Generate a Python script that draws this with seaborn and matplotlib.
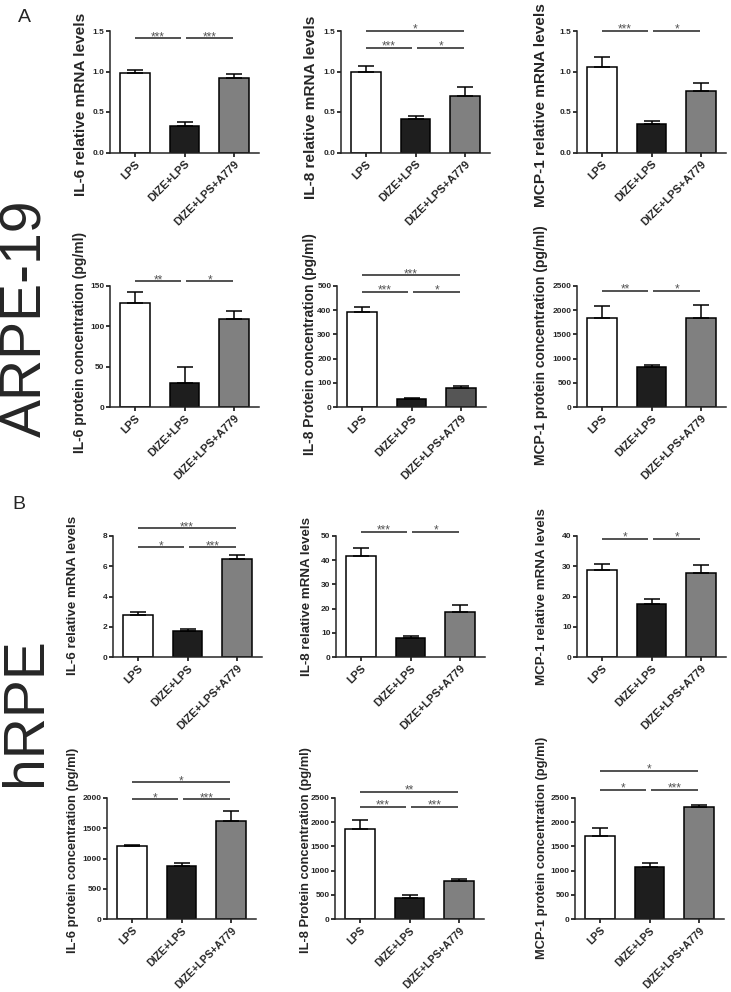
import numpy as np
import pandas as pd
import matplotlib
matplotlib.use('Agg')
import matplotlib.pyplot as plt
import seaborn as sns

sns.set_style('ticks')
plt.rcParams['font.family'] = ['Liberation Sans', 'DejaVu Sans']

groups = ['LPS', 'DIZE+LPS', 'DIZE+LPS+A779']

# ---- ARPE-19 ----
arpe_il6_mrna = [0.98, 0.33, 0.925]
arpe_il6_mrna_sem = [0.04, 0.05, 0.05]
arpe_il8_mrna = [1.00, 0.41, 0.70]
arpe_il8_mrna_sem = [0.065, 0.035, 0.105]
arpe_mcp1_mrna = [1.06, 0.35, 0.755]
arpe_mcp1_mrna_sem = [0.12, 0.045, 0.10]
arpe_il6_prot = [129, 30, 109]
arpe_il6_prot_sem = [14, 19, 10.5]
arpe_il8_prot = [393, 34, 79]
arpe_il8_prot_sem = [22, 4, 9]
arpe_mcp1_prot = [1846, 820, 1846]
arpe_mcp1_prot_sem = [234, 41, 268]

# ---- hRPE ----
hrpe_il6_mrna = [2.78, 1.75, 6.47]
hrpe_il6_mrna_sem = [0.22, 0.08, 0.27]
hrpe_il8_mrna = [41.6, 8.0, 18.8]
hrpe_il8_mrna_sem = [3.6, 0.8, 2.6]
hrpe_mcp1_mrna = [28.7, 17.4, 27.8]
hrpe_mcp1_mrna_sem = [1.95, 1.9, 2.5]
hrpe_il6_prot = [1201, 870, 1625]
hrpe_il6_prot_sem = [28, 50, 155]
hrpe_il8_prot = [1853, 441, 792]
hrpe_il8_prot_sem = [192, 55, 41]
hrpe_mcp1_prot = [1713, 1077, 2313]
hrpe_mcp1_prot_sem = [172, 76, 49]

# significance brackets: (group i, group j, level, label)
sig_arpe_il6_mrna = [(0, 1, 1.41, '***'), (1, 2, 1.41, '***')]
sig_arpe_il8_mrna = [(0, 2, 1.5, '*'), (0, 1, 1.29, '***'), (1, 2, 1.29, '*')]
sig_arpe_mcp1_mrna = [(0, 1, 1.5, '***'), (1, 2, 1.5, '*')]
sig_arpe_il6_prot = [(0, 1, 156, '**'), (1, 2, 156, '*')]
sig_arpe_il8_prot = [(0, 2, 544, '***'), (0, 1, 475, '***'), (1, 2, 475, '*')]
sig_arpe_mcp1_prot = [(0, 1, 2397, '**'), (1, 2, 2397, '*')]
sig_hrpe_il6_mrna = [(0, 2, 8.5, '***'), (0, 1, 7.25, '*'), (1, 2, 7.25, '***')]
sig_hrpe_il8_mrna = [(0, 1, 51.7, '***'), (1, 2, 51.7, '*')]
sig_hrpe_mcp1_mrna = [(0, 1, 39, '*'), (1, 2, 39, '*')]
sig_hrpe_il6_prot = [(0, 2, 2259, '*'), (0, 1, 1978, '*'), (1, 2, 1978, '***')]
sig_hrpe_il8_prot = [(0, 2, 2631, '**'), (0, 1, 2321, '***'), (1, 2, 2321, '***')]
sig_hrpe_mcp1_prot = [(0, 2, 3059, '*'), (0, 1, 2672, '*'), (1, 2, 2672, '***')]

ylabels = [
    'IL-6 relative mRNA levels', 'IL-8 relative mRNA levels', 'MCP-1 relative mRNA levels',
    'IL-6 protein concentration (pg/ml)', 'IL-8 Protein concentration (pg/ml)', 'MCP-1 protein concentration (pg/ml)',
    'IL-6 relative mRNA levels', 'IL-8 relative mRNA levels', 'MCP-1 relative mRNA levels',
    'IL-6 protein concentration (pg/ml)', 'IL-8 Protein concentration (pg/ml)', 'MCP-1 protein concentration (pg/ml)',
]
ymax = [1.5, 1.5, 1.5, 150, 500, 2500, 8, 50, 40, 2000, 2500, 2500]
ystep = [0.5, 0.5, 0.5, 50, 100, 500, 2, 10, 10, 500, 500, 500]

means = [arpe_il6_mrna, arpe_il8_mrna, arpe_mcp1_mrna, arpe_il6_prot, arpe_il8_prot, arpe_mcp1_prot,
         hrpe_il6_mrna, hrpe_il8_mrna, hrpe_mcp1_mrna, hrpe_il6_prot, hrpe_il8_prot, hrpe_mcp1_prot]
sems = [arpe_il6_mrna_sem, arpe_il8_mrna_sem, arpe_mcp1_mrna_sem, arpe_il6_prot_sem, arpe_il8_prot_sem,
        arpe_mcp1_prot_sem, hrpe_il6_mrna_sem, hrpe_il8_mrna_sem, hrpe_mcp1_mrna_sem, hrpe_il6_prot_sem,
        hrpe_il8_prot_sem, hrpe_mcp1_prot_sem]
sigs = [sig_arpe_il6_mrna, sig_arpe_il8_mrna, sig_arpe_mcp1_mrna, sig_arpe_il6_prot, sig_arpe_il8_prot,
        sig_arpe_mcp1_prot, sig_hrpe_il6_mrna, sig_hrpe_il8_mrna, sig_hrpe_mcp1_mrna, sig_hrpe_il6_prot,
        sig_hrpe_il8_prot, sig_hrpe_mcp1_prot]

# ---- layout (pixels) ----
W, H = 731, 992
row_tb = [(31, 152.5), (286, 407), (536, 657), (798, 919)]
col_left = [[110, 341, 577], [110, 337, 577], [113, 336, 577], [107, 335, 575]]
AX_W = 149
label_c = [[(81, 104), (311, 107), (541, 105)],
           [(80, 342), (310, 344), (541, 345)],
           [(73, 595), (307, 596), (542, 597)],
           [(73, 850), (306, 850), (542, 848)]]
label_fs = [11.1, 10, 9.6, 9.3]
xtick_fs = [8, 8, 8, 7.6]

fig = plt.figure(figsize=(W / 100, H / 100), dpi=100)

base_colors = ['#ffffff', '#1e1e1e', '#808080']

for k in range(12):
    r, c = divmod(k, 3)
    top, bot = row_tb[r]
    left = col_left[r][c]
    ax = fig.add_axes([left / W, 1 - bot / H, AX_W / W, (bot - top) / H])
    colors = list(base_colors)
    if k == 4:
        colors[2] = '#555555'
    df = pd.DataFrame({'group': groups, 'value': means[k]})
    sns.barplot(data=df, x='group', y='value', hue='group', palette=colors, edgecolor='black',
                linewidth=1.1, width=0.6, ax=ax, legend=False, errorbar=None, saturation=1)
    ax.errorbar(np.arange(3), means[k], yerr=[np.zeros(3), sems[k]], fmt='none', ecolor='black',
                elinewidth=1.1, capsize=5.5, capthick=1.1, zorder=1)
    ax.set_xlim(-0.5, 2.5)
    ax.set_ylim(0, ymax[k])
    ticks = np.arange(0, ymax[k] + ystep[k] / 2, ystep[k])
    ax.set_yticks(ticks)
    if ymax[k] < 2:
        ax.set_yticklabels([f'{t:.1f}' for t in ticks])
    else:
        ax.set_yticklabels([f'{int(round(t))}' for t in ticks])
    ax.set_xticks([0, 1, 2])
    ax.set_xticklabels(groups, rotation=45, ha='right', rotation_mode='anchor',
                       fontsize=xtick_fs[r], fontweight='bold')
    for t in ax.get_yticklabels():
        t.set_fontsize(6)
        t.set_fontweight('bold')
    ax.tick_params(length=3, width=1.1, color='black')
    ax.tick_params(axis='y', pad=1)
    ax.tick_params(axis='x', pad=1.5)
    ax.set_xlabel('')
    sns.despine(ax=ax)
    for s in ['left', 'bottom']:
        ax.spines[s].set_linewidth(1.1)
    ax.set_ylabel(ylabels[k], fontsize=label_fs[r], fontweight='bold')
    ax.yaxis.label.set_va('center')
    cx, cy = label_c[r][c]
    ax.yaxis.set_label_coords((cx - left) / AX_W, (bot - cy) / (bot - top))

    for (i, j, y, txt) in sigs[k]:
        if j - i == 2:
            x1, x2 = 0.0, 1.98
        elif i == 0:
            x1, x2 = 0.0, 0.93
        else:
            x1, x2 = 1.04, 1.98
        ax.plot([x1, x2], [y, y], color='#333333', lw=1.2, clip_on=False, solid_capstyle='butt')
        ax.annotate(txt, ((x1 + x2) / 2, y), xytext=(0, -3.5), textcoords='offset points',
                    ha='center', va='bottom', fontsize=8.5, color='#555555', annotation_clip=False)

fig.text(26 / W, 1 - 318 / H, 'ARPE-19', rotation=90, fontsize=41, ha='center', va='center')
fig.text(26 / W, 1 - 712 / H, 'hRPE', rotation=90, fontsize=41, ha='center', va='center')
fig.text(24 / W, 1 - 17 / H, 'A', fontsize=14, ha='center', va='center')
fig.text(19 / W, 1 - 505 / H, 'B', fontsize=14, ha='center', va='center')

fig.savefig('out.png', dpi=100)
